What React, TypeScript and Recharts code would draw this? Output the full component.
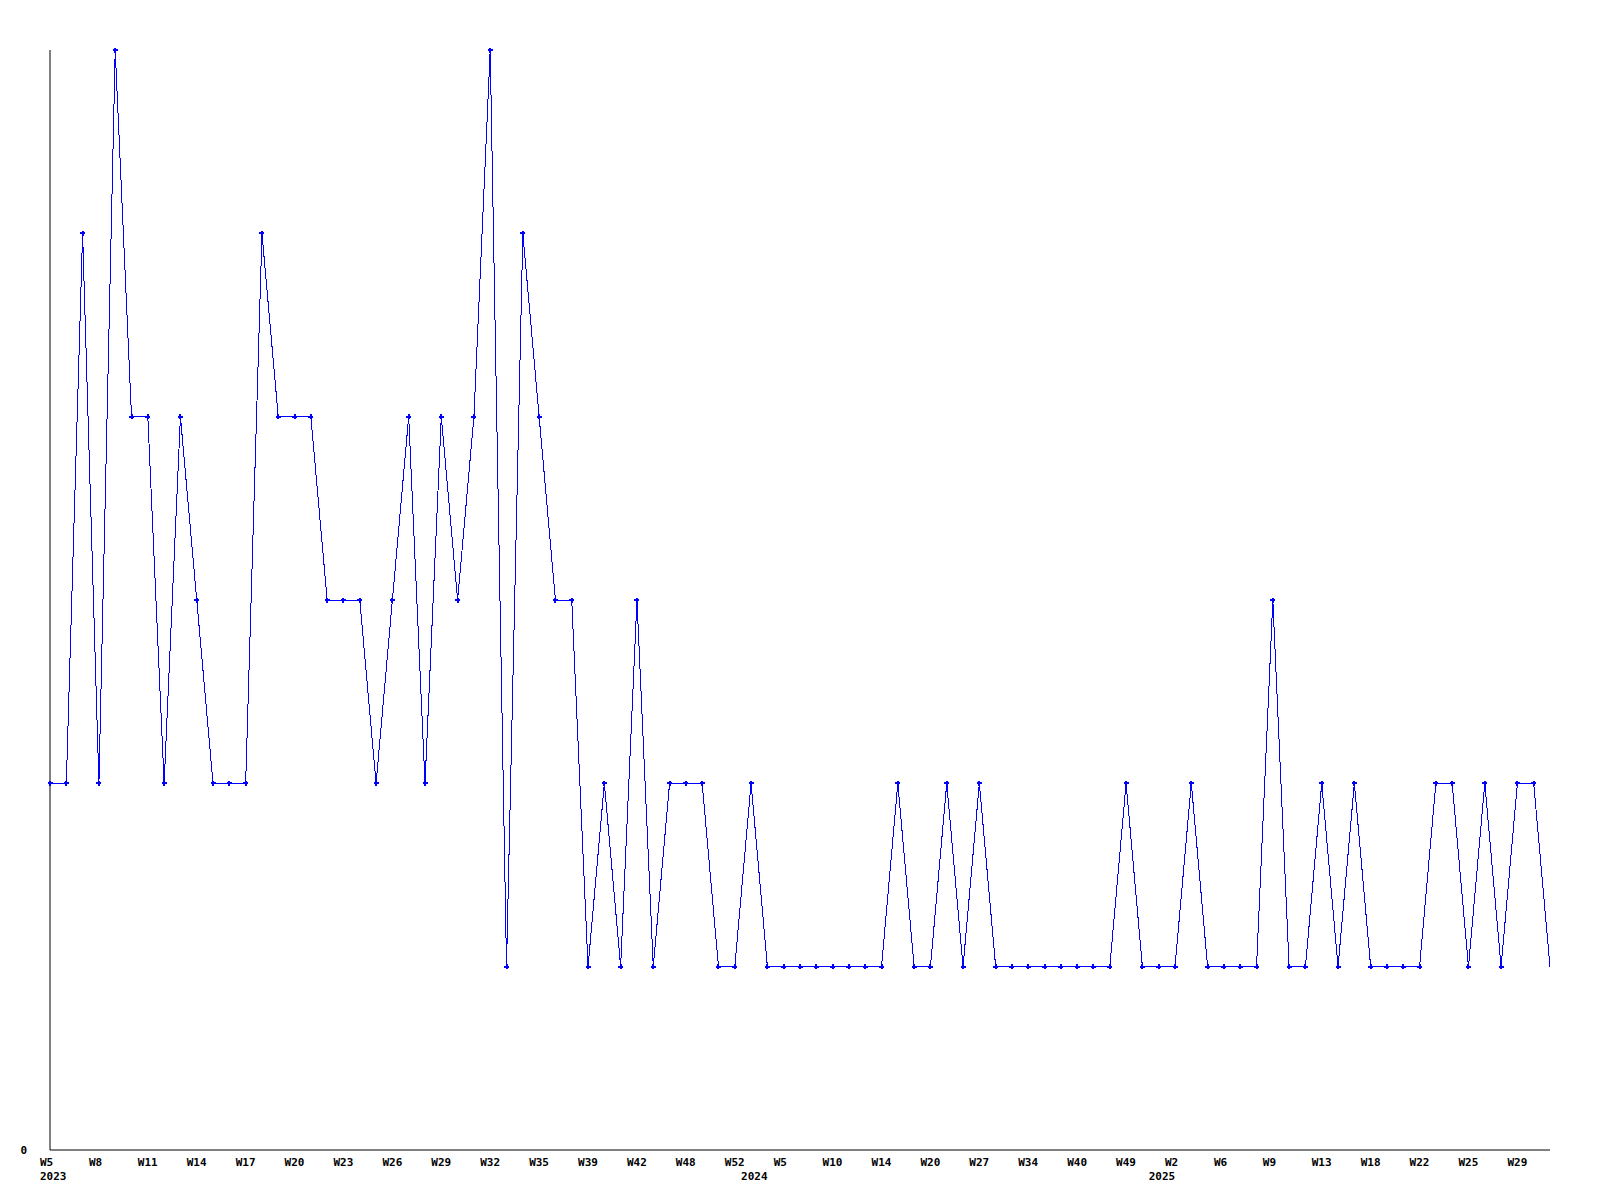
import React from "react";
import { LineChart, Line, XAxis, YAxis } from "recharts";

// one value per sample, left to right
const values = [
  2, 2, 5, 2, 6, 4, 4, 2, 4, 3,
  2, 2, 2, 5, 4, 4, 4, 3, 3, 3,
  2, 3, 4, 2, 4, 3, 4, 6, 1, 5,
  4, 3, 3, 1, 2, 1, 3, 1, 2, 2,
  2, 1, 1, 2, 1, 1, 1, 1, 1, 1,
  1, 1, 2, 1, 1, 2, 1, 2, 1, 1,
  1, 1, 1, 1, 1, 1, 2, 1, 1, 1,
  2, 1, 1, 1, 1, 3, 1, 1, 2, 1,
  2, 1, 1, 1, 1, 2, 2, 1, 2, 1,
  2, 2, 1,
];

// week label shown on every third sample
const weekLabels = [
  "W5", "W8", "W11", "W14", "W17", "W20", "W23", "W26", "W29", "W32",
  "W35", "W39", "W42", "W48", "W52", "W5", "W10", "W14", "W20", "W27",
  "W34", "W40", "W49", "W2", "W6", "W9", "W13", "W18", "W22", "W25", "W29",
];

const yearIndexes = [0, 43, 68];
const yearLabels = ["2023", "2024", "2025"];

const data = values.map((v, i) => ({ idx: i, value: v }));

const FONT = "'DejaVu Sans Mono', monospace";
const BLUE = "#0000ff";

const XTick = (props: any) => {
  const { x, y, payload } = props;
  const i = payload.value as number;
  const week = i % 3 === 0 ? weekLabels[i / 3] : null;
  const yi = yearIndexes.indexOf(i);
  return (
    <g>
      {week && (
        <text x={x - 10} y={y + 16} textAnchor="start" fontFamily={FONT} fontWeight="bold" fontSize={11} fill="#000">
          {week}
        </text>
      )}
      {yi >= 0 && (
        <text x={x - 10} y={y + 30} textAnchor="start" fontFamily={FONT} fontWeight="bold" fontSize={11} fill="#000">
          {yearLabels[yi]}
        </text>
      )}
    </g>
  );
};

const YTick = (props: any) => {
  const { x, y, payload } = props;
  return (
    <text x={x - 23} y={y + 4} textAnchor="end" fontFamily={FONT} fontWeight="bold" fontSize={11} fill="#000">
      {payload.value}
    </text>
  );
};

// small plus-shaped marker; the last sample has none
const Marker = (props: any) => {
  const { cx, cy, index } = props;
  if (index === values.length - 1) return <g key={`m-${index}`} />;
  return (
    <g key={`m-${index}`} fill={BLUE} shapeRendering="crispEdges">
      <rect x={cx - 2.5} y={cy - 1} width={5} height={2} />
      <rect x={cx - 1} y={cy - 2.5} width={2} height={5} />
    </g>
  );
};

export default function App() {
  return (
    <div style={{ position: "absolute", left: 0, top: 0, width: 1600, height: 1200, background: "#fff" }}>
      <LineChart width={1600} height={1200} data={data} margin={{ top: 50, right: 50, bottom: 0, left: 0 }}>
        <XAxis
          dataKey="idx"
          type="category"
          height={50}
          interval={0}
          tickSize={0}
          tickMargin={0}
          tickLine={false}
          stroke="#000"
          tick={<XTick />}
        />
        <YAxis
          width={50}
          domain={[0, 6]}
          ticks={[0]}
          tickSize={0}
          tickMargin={0}
          tickLine={false}
          stroke="#000"
          tick={<YTick />}
        />
        <Line
          type="linear"
          dataKey="value"
          stroke={BLUE}
          strokeWidth={1}
          shapeRendering="crispEdges"
          dot={Marker}
          activeDot={false}
          isAnimationActive={false}
        />
      </LineChart>
    </div>
  );
}
